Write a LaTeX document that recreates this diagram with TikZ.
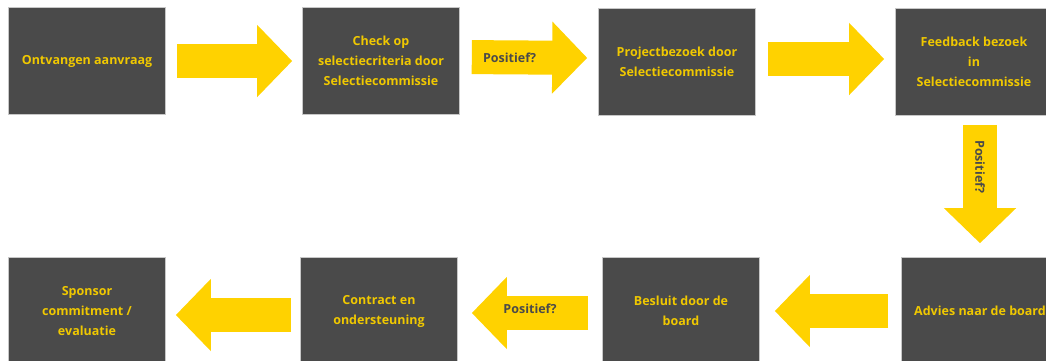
\documentclass[tikz,border=0pt]{standalone}
\usepackage{fontspec}
\setmainfont{Open Sans}
\usepackage{tikz}
\usetikzlibrary{arrows.meta}

\definecolor{boxgray}{HTML}{4A4A4A}
\definecolor{arrowyellow}{HTML}{FFD200}
\definecolor{textyellow}{HTML}{F0C800}

\tikzset{
	stap/.style={rectangle, fill=boxgray, draw=black!22, line width=0.6pt,
		minimum width=157pt, minimum height=107pt, inner sep=2pt,
		text=textyellow, align=center, font=\fontsize{12.5}{20}\selectfont\bfseries},
	pijl/.style={draw=arrowyellow, line width=34pt, -{Triangle[width=70pt,length=35pt]}},
	pijltekst/.style={text=boxgray, font=\fontsize{12.5}{15}\selectfont\bfseries},
}

\begin{document}
\begin{tikzpicture}[x=1pt,y=-1pt]

	% page size of the reference
	\useasboundingbox (0,0) rectangle (1046,360);

	% Top row, left to right
	\node[stap] (Aanvraag) at ( 87,61) {Ontvangen aanvraag};
	\node[stap] (Check)    at (381,61) {Check op\\selectiecriteria door\\Selectiecommissie};
	\node[stap] (Bezoek)   at (677,62) {Projectbezoek door\\Selectiecommissie};
	\node[stap] (Feedback) at (974,62) {Feedback bezoek\\in\\Selectiecommissie};

	% Bottom row, right to left
	\node[stap] (Advies)   at (980,311) {Advies naar de board};
	\node[stap] (Besluit)  at (681,311) {Besluit door de\\board};
	\node[stap] (Contract) at (379,311) {Contract en\\ondersteuning};
	\node[stap] (Sponsor)  at ( 87,311) {Sponsor\\commitment /\\evaluatie};

	%%%%%%%%%%%%%%%%%%%%%%%%%%%%%%%%%%%%%%%%%%%%%%%%%%%%%%%%%%%%%%
	% The big yellow arrows between the steps

	\draw[pijl, shorten <=11pt, shorten >=10pt] (Aanvraag.east) -- (Check.west);
	\draw[pijl, shorten <=12pt, shorten >=11pt] ([yshift=4pt]Check.east) -- ([yshift=4pt]Bezoek.west)
		node[pijltekst, pos=.36] {Positief?};
	\draw[pijl, shorten <=12pt, shorten >=11pt] ([yshift=3pt]Bezoek.east) -- ([yshift=3pt]Feedback.west);

	%Going down on the right hand side
	\draw[pijl, shorten <=9pt, shorten >=14pt] (Feedback.south -| Advies.north) -- (Advies.north)
		node[pijltekst, pos=.36, rotate=-90] {Positief?};

	\draw[pijl, shorten <=13pt, shorten >=15pt] (Advies.west) -- (Besluit.east);
	\draw[pijl, shorten <=14pt, shorten >=14pt] ([yshift=-2pt]Besluit.west) -- ([yshift=-2pt]Contract.east)
		node[pijltekst, midway, yshift=4pt] {Positief?};
	\draw[pijl, shorten <=9pt, shorten >=10pt] ([yshift=-4pt]Contract.west) -- ([yshift=-4pt]Sponsor.east);

\end{tikzpicture}
\end{document}
